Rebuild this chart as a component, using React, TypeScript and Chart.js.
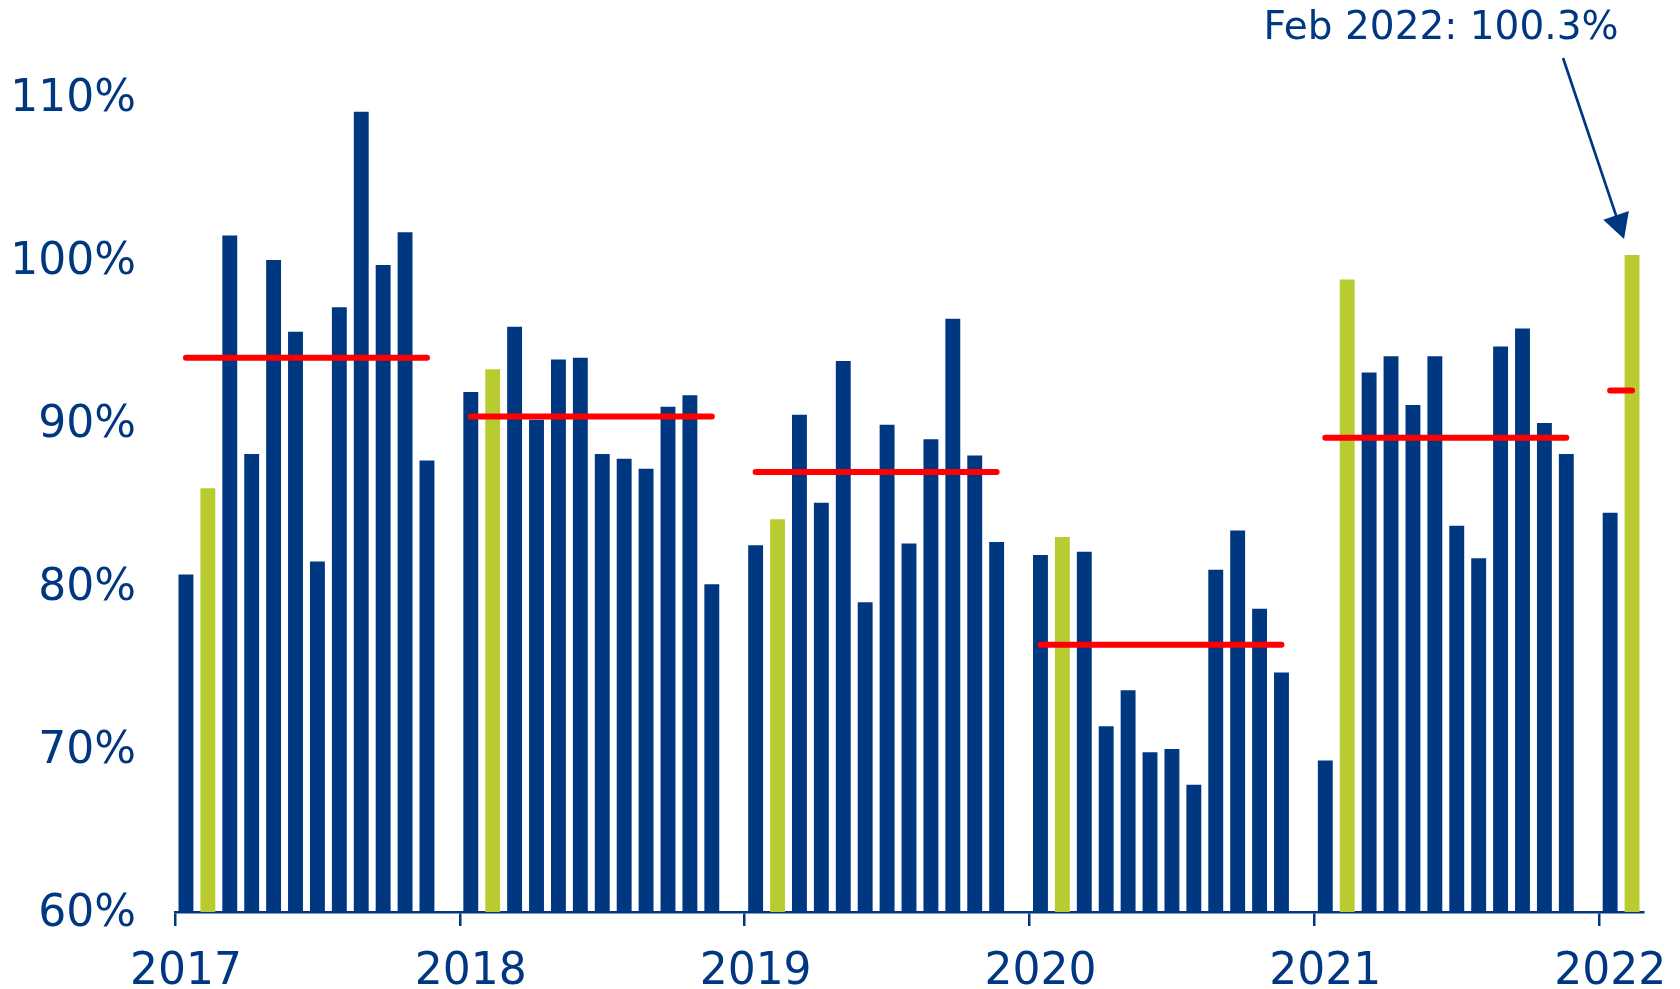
import React, { useEffect, useRef } from "react";
import { Chart, registerables } from "chart.js";

Chart.register(...registerables);

const years = ["2017", "2018", "2019", "2020", "2021", "2022"];
const months = ["Jan", "Feb", "Mar", "Apr", "May", "Jun", "Jul", "Aug", "Sep", "Oct", "Nov", "Dec"];

const ratio2017 = [80.7, 86.0, 101.5, 88.1, 100.0, 95.6, 81.5, 97.1, 109.1, 99.7, 101.7, 87.7];
const ratio2018 = [91.9, 93.3, 95.9, 90.2, 93.9, 94.0, 88.1, 87.8, 87.2, 91.0, 91.7, 80.1];
const ratio2019 = [82.5, 84.1, 90.5, 85.1, 93.8, 79.0, 89.9, 82.6, 89.0, 96.4, 88.0, 82.7];
const ratio2020 = [81.9, 83.0, 82.1, 71.4, 73.6, 69.8, 70.0, 67.8, 81.0, 83.4, 78.6, 74.7];
const ratio2021 = [69.3, 98.8, 93.1, 94.1, 91.1, 94.1, 83.7, 81.7, 94.7, 95.8, 90.0, 88.1];
const ratio2022 = [84.5, 100.3];
const annualAverage = [94.0, 90.4, 87.0, 76.4, 89.1, 92.0];

const yTicks = [60, 70, 80, 90, 100, 110];
const annotationText = "Feb 2022: 100.3%";

const NAVY = "#003781";
const GREEN = "#B8CC32";
const RED = "#FF0000";
const FONT = '"DejaVu Sans", Verdana, sans-serif';

const yearly = [ratio2017, ratio2018, ratio2019, ratio2020, ratio2021, ratio2022];

// build category table: 12 months + one empty slot per year
const labels: string[] = [];
const barValues: (number | null)[] = [];
const avgValues: (number | null)[] = [];
const barColors: string[] = [];
yearly.forEach((vals, yi) => {
  vals.forEach((v, mi) => {
    labels.push(months[mi] + " " + years[yi]);
    barValues.push(v);
    avgValues.push(annualAverage[yi]);
    barColors.push(mi === 1 ? GREEN : NAVY);
  });
  if (yi < yearly.length - 1) {
    labels.push("");
    barValues.push(null);
    avgValues.push(null);
    barColors.push(NAVY);
  }
});

const annotationPlugin = {
  id: "febAnnotation",
  afterDatasetsDraw(chart: any) {
    const { ctx } = chart;
    const xs = chart.scales.x;
    const ys = chart.scales.y;
    const idx = labels.length - 1;
    const bx = xs.getPixelForValue(idx);
    const by = ys.getPixelForValue(barValues[idx]);
    const tipX = bx - 8;
    const tipY = by - 16;
    const sx = bx - 69;
    const sy = 58;
    const dx = tipX - sx;
    const dy = tipY - sy;
    const len = Math.sqrt(dx * dx + dy * dy);
    const ux = dx / len;
    const uy = dy / len;
    const headLen = 25;
    const headHalf = 13.5;
    const mx = tipX - ux * headLen;
    const my = tipY - uy * headLen;
    ctx.save();
    ctx.strokeStyle = NAVY;
    ctx.fillStyle = NAVY;
    ctx.lineWidth = 2.7;
    ctx.beginPath();
    ctx.moveTo(sx, sy);
    ctx.lineTo(mx + ux * 2, my + uy * 2);
    ctx.stroke();
    ctx.beginPath();
    ctx.moveTo(tipX, tipY);
    ctx.lineTo(mx - uy * headHalf, my + ux * headHalf);
    ctx.lineTo(mx + uy * headHalf, my - ux * headHalf);
    ctx.closePath();
    ctx.fill();
    ctx.font = "39px " + FONT;
    ctx.textAlign = "center";
    ctx.textBaseline = "alphabetic";
    ctx.fillText(annotationText, bx - 191, 39);
    ctx.restore();
  },
};

export default function App() {
  const ref = useRef<HTMLCanvasElement>(null);
  useEffect(() => {
    if (!ref.current) return;
    const chart = new Chart(ref.current, {
      type: "bar",
      data: {
        labels,
        datasets: [
          {
            type: "line",
            data: avgValues,
            borderColor: RED,
            borderWidth: 6,
            borderCapStyle: "round",
            pointRadius: 0,
            spanGaps: false,
            order: 0,
          } as any,
          {
            type: "bar",
            data: barValues,
            backgroundColor: barColors,
            barPercentage: 0.68,
            categoryPercentage: 1,
            order: 1,
          },
        ],
      },
      options: {
        responsive: false,
        animation: false,
        layout: { padding: { top: 80.7, right: 37, left: 0, bottom: 0 } },
        plugins: { legend: { display: false }, tooltip: { enabled: false } },
        scales: {
          x: {
            type: "category",
            offset: true,
            border: { display: true, color: NAVY, width: 2.5 },
            grid: {
              offset: true,
              drawOnChartArea: false,
              drawTicks: true,
              tickLength: 14,
              lineWidth: 2.5,
              color: (c: any) => (c.index % 13 === 0 && c.index < labels.length ? NAVY : "rgba(0,0,0,0)"),
            },
            ticks: {
              autoSkip: false,
              maxRotation: 0,
              minRotation: 0,
              padding: 20,
              color: NAVY,
              font: { family: FONT, size: 44 },
              callback: function (this: any, value: any) {
                const l = this.getLabelForValue(value) as string;
                return l.startsWith("Jan") ? l.slice(4) : "";
              },
            },
            afterFit: (s: any) => {
              s.height = 77;
            },
          },
          y: {
            min: yTicks[0],
            max: 111,
            border: { display: false },
            grid: { display: false, drawTicks: false },
            afterBuildTicks: (s: any) => {
              s.ticks = yTicks.map((v) => ({ value: v }));
            },
            ticks: {
              stepSize: 10,
              includeBounds: false,
              padding: 39,
              labelOffset: 3,
              color: NAVY,
              font: { family: FONT, size: 44 },
              callback: (v: any) => v + "%",
            },
            afterFit: (s: any) => {
              s.width = 175;
            },
          },
        },
      },
      plugins: [annotationPlugin],
    });
    return () => chart.destroy();
  }, []);
  return (
    <div style={{ position: "fixed", left: 0, top: 0, width: 1680, height: 989, background: "#fff" }}>
      <canvas ref={ref} width={1680} height={989} style={{ display: "block" }} />
    </div>
  );
}
